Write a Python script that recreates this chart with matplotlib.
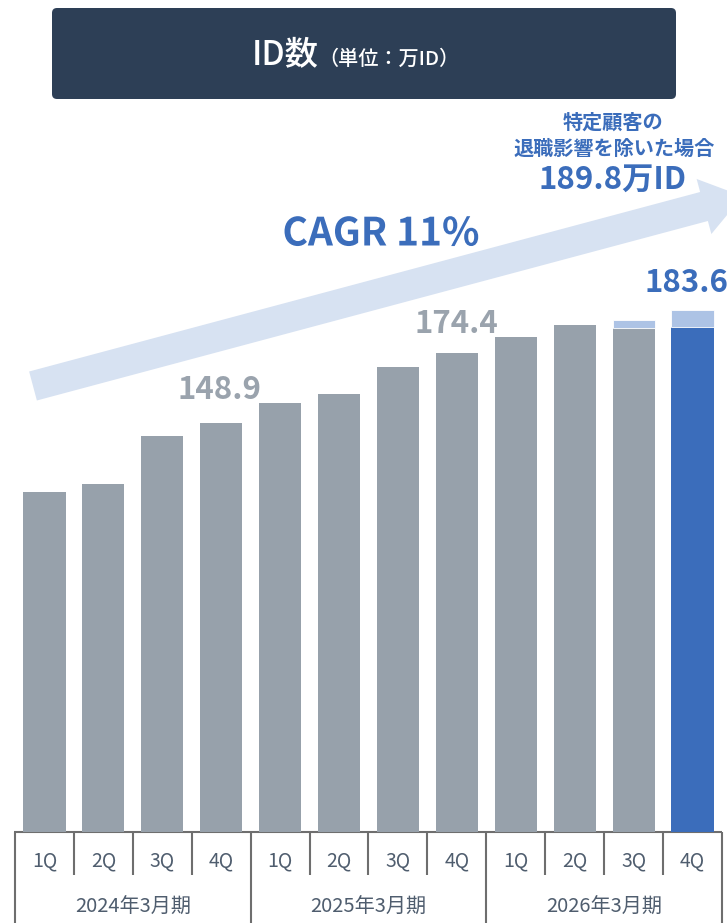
import numpy as np
import matplotlib
matplotlib.use("Agg")
import matplotlib.pyplot as plt
from matplotlib.patches import FancyBboxPatch, Polygon
from matplotlib import transforms
import matplotlib.patheffects as pe

plt.rcParams['font.family'] = ['Noto Sans CJK JP', 'DejaVu Sans']

# ---------------- data ----------------
quarters = ['1Q', '2Q', '3Q', '4Q'] * 3
fiscal_years = ['2024年3月期', '2025年3月期', '2026年3月期']
ids = [123.8, 126.7, 144.2, 148.9, 156.2, 159.5, 169.3, 174.4, 180.2, 184.6, 183.3, 183.6]
# value excluding the retirement impact of a specific customer
ids_excl = [np.nan] * 10 + [186.3, 189.8]
label_idx = [3, 7, 11]
title_main = 'ID数'
title_unit = '（単位：万ID）'
cagr_text = 'CAGR 11%'
note_lines = ['特定顧客の', '退職影響を除いた場合']
note_value = '189.8万ID'

# ---------------- style ----------------
GRAY = '#97a1ab'
BLUE = '#3b6dbb'
LIGHT = '#adc3e5'
ARROW = '#d7e2f2'
NAVY = '#2d3f56'
LABEL_GRAY = '#9aa3ad'
TXT = '#4f5d6e'
LINE = '#6e6e6e'

W, H = 727, 923
fig = plt.figure(figsize=(W / 100, H / 100), dpi=100)

# overlay axes in pixel coordinates
ov = fig.add_axes([0, 0, 1, 1], zorder=0)
ov.set_xlim(0, W)
ov.set_ylim(H, 0)
ov.axis('off')

# bar axes
base_px = 832
px_per_unit = 2.7485
left_px, right_px = 15, 722
ax = fig.add_axes([left_px / W, (H - base_px) / H, (right_px - left_px) / W, base_px / H], zorder=1)
ax.patch.set_visible(False)
n = len(ids)
x = np.arange(n)
ax.set_xlim(-0.5, n - 0.5)
ax.set_ylim(0, base_px / px_per_unit)
ax.axis('off')

colors = [GRAY] * (n - 1) + [BLUE]
bw = 0.715
ax.bar(x, ids, width=bw, color=colors, zorder=3)
extra = np.array(ids_excl) - np.array(ids)
ax.bar(x, extra, bottom=ids, width=bw, color=LIGHT, zorder=3,
       edgecolor='white', linewidth=0.6)

# value labels
offsets = {3: (-2, 33), 7: (0, 29), 11: (-6, 44)}
for i in label_idx:
    col = BLUE if i == n - 1 else LABEL_GRAY
    ax.annotate(f'{ids[i]:.1f}', (x[i], ids[i]), xytext=offsets[i],
                textcoords='offset pixels', ha='center', va='center',
                fontsize=22.5, fontweight='bold', color=col, zorder=5,
                annotation_clip=False)

# ---------------- title box ----------------
box = FancyBboxPatch((55, 11), 618, 85, boxstyle='round,pad=3,rounding_size=5',
                     facecolor=NAVY, edgecolor='none')
ov.add_patch(box)
ov.text(319, 65, title_main, ha='right', va='baseline', color='white', fontsize=24,
        fontweight='medium')
ov.text(318, 65, title_unit, ha='left', va='baseline', color='white', fontsize=14.5,
        fontweight='medium')

# ---------------- arrow ----------------
theta = np.arctan(0.2675)
u = np.array([np.cos(theta), -np.sin(theta)])
nrm = np.array([np.sin(theta), np.cos(theta)])
S = np.array([33.0, 386.0])
B = np.array([704.0, 206.5])
hw, hh, hl = 15.0, 28.5, 40.0
T = B + hl * u
poly = [S - hw * nrm, B - hw * nrm, B - hh * nrm, T, B + hh * nrm, B + hw * nrm, S + hw * nrm]
ov.add_patch(Polygon(poly, closed=True, facecolor=ARROW, edgecolor='none'))

ov.text(381, 234, cagr_text, ha='center', va='center', color=BLUE, fontsize=28,
        fontweight='bold', path_effects=[pe.withStroke(linewidth=5, foreground='white')])

# annotation
ov.text(613, 122.5, note_lines[0], ha='center', va='center', color=BLUE, fontsize=14.5, fontweight='bold')
ov.text(614, 148.5, note_lines[1], ha='center', va='center', color=BLUE, fontsize=14.5, fontweight='bold')
ov.text(613, 180, note_value, ha='center', va='center', color=BLUE, fontsize=22.5, fontweight='bold')

# ---------------- table ----------------
bt = transforms.blended_transform_factory(ax.transData, ov.transData)
ov.plot([left_px - 1, right_px], [base_px, base_px], color=LINE, lw=1.5, solid_capstyle='butt')
for k in range(n + 1):
    xe = k - 0.5
    y2 = H if k % 4 == 0 else 875
    ov.plot([xe, xe], [base_px, y2], color=LINE, lw=1.5, transform=bt, solid_capstyle='butt')
for i, q in enumerate(quarters):
    ov.text(x[i], 861, q, ha='center', va='center', color=TXT, fontsize=14, transform=bt)
for j, fy in enumerate(fiscal_years):
    ov.text(4 * j + 1.5, 907, fy, ha='center', va='center', color=TXT, fontsize=14.5, transform=bt)

fig.savefig('out.png', dpi=100)
